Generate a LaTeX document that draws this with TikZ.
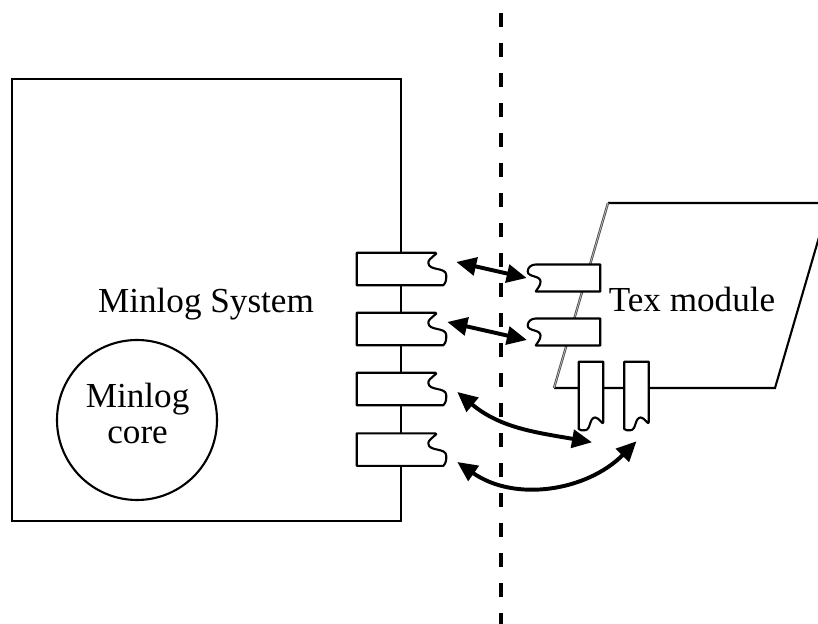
\documentclass[tikz,border=0pt]{standalone}
\usepackage{fontspec}
\setmainfont{Liberation Serif}
\usepackage{tikz}
\usetikzlibrary{arrows.meta}

% plug outlines, the notch sits on the free side
\newcommand{\lplugline}[1]{%
  \draw[plugline] (#1.north west) -- (#1.north east)
    to[out=0, in=90] ([xshift=-0.175cm, yshift=-0.25cm]#1.north east)
    to[out=-90, in=90] ([xshift=0.275cm, yshift=0.25cm]#1.south east)
    to[out=-90, in=45] ([xshift=0.2cm]#1.south east)
    -- (#1.south west) -- cycle;}
\newcommand{\rplugline}[1]{%
  \draw[plugline] (#1.north east) -- (#1.north west)
    to[out=180, in=90] ([xshift=-0.2cm, yshift=-0.17cm]#1.north west)
    to[out=-90, in=90] ([xshift=0.12cm, yshift=0.25cm]#1.south west)
    to[out=-90, in=60] (#1.south west)
    -- (#1.south east) -- cycle;}
\newcommand{\vplugline}[1]{%
  \draw[plugline] (#1.north east) -- (#1.south east)
    to[out=-90, in=0] ([xshift=-0.2cm, yshift=0.12cm]#1.south east)
    to[out=180, in=0] ([xshift=0.15cm, yshift=-0.2cm]#1.south west)
    to[out=180, in=-45] ([yshift=-0.17cm]#1.south west)
    -- (#1.north west) -- cycle;}

\begin{document}
\begin{tikzpicture}[
  sysbox/.style={rectangle, draw, line width=1.5pt,
    minimum width=9.725cm, minimum height=11.05cm},
  corebox/.style={circle, draw, line width=1.5pt, minimum size=4cm},
  lbl/.style={font=\fontsize{25}{25.6}\selectfont, inner sep=0pt},
  plug/.style={rectangle, fill=white, inner sep=0pt},
  lplug/.style={plug, minimum width=1.95cm, minimum height=0.8cm},
  rplug/.style={plug, minimum width=1.6cm, minimum height=0.66cm},
  vplug/.style={plug, minimum width=0.6cm, minimum height=1.5cm},
  plugline/.style={line width=1.5pt, line join=round},
  arr/.style={{Triangle[length=0.5cm,width=0.45cm]}-{Triangle[length=0.5cm,width=0.45cm]},
    line width=2.8pt},
  cutline/.style={line width=2.4pt, dash pattern=on 0.35cm off 0.4cm, dash phase=0.425cm},
  backedge/.style={draw=black!70, line width=0.6pt, double=black!25, double distance=0.5pt}
]
\useasboundingbox (0,0) rectangle (20.45,15.6);
\clip (0,0) rectangle (20.45,15.6);

% dividing line
\coordinate (cuttop) at (12.525,15.6);
\coordinate (cutbot) at (12.525,0);
\draw[cutline] (cuttop) -- (cutbot);

% Minlog side
\node[sysbox] (sys) at (5.1625,8.1) {};
\node[corebox] (core) at (3.425,5.1) {};
\node[lbl, align=center] (coretxt) at (3.44,5.275) {Minlog\\core};
\node[lbl, anchor=base] (systxt) at (5.15,7.775) {Minlog System};

% Tex side
\coordinate (pbl) at (13.85,5.9);
\coordinate (pbr) at (19.375,5.9);
\coordinate (ptr) at (20.725,10.525);
\coordinate (ptl) at (15.2,10.525);
\draw[line width=1.5pt] (pbl) -- (pbr) -- (ptr) -- (ptl);
\draw[backedge] (pbl) -- (ptl);
\node[lbl, anchor=base] (textxt) at (17.3,7.8) {Tex module};

% plugs
\node[lplug] (lp1) at (9.9,8.875) {};
\node[lplug] (lp2) at (9.9,7.375) {};
\node[lplug] (lp3) at (9.9,5.875) {};
\node[lplug] (lp4) at (9.9,4.36) {};
\lplugline{lp1}
\lplugline{lp2}
\lplugline{lp3}
\lplugline{lp4}

\node[rplug] (rp1) at (14.2,8.65) {};
\node[rplug] (rp2) at (14.2,7.3) {};
\rplugline{rp1}
\rplugline{rp2}

\node[vplug] (vp1) at (14.775,5.8) {};
\node[vplug] (vp2) at (15.9125,5.8) {};
\vplugline{vp1}
\vplugline{vp2}

% links
\draw[arr] ([xshift=0.525cm, yshift=0.175cm]lp1.east) -- ([xshift=-0.225cm]rp1.west);
\draw[arr] ([xshift=0.3cm, yshift=0.175cm]lp2.east) -- ([xshift=-0.22cm, yshift=-0.2cm]rp2.west);
\draw[arr] ([xshift=0.55cm, yshift=-0.075cm]lp3.east)
  to[out=-40, in=170] ([xshift=0.025cm, yshift=-0.5cm]vp1.south);
\draw[arr] ([xshift=0.55cm, yshift=-0.31cm]lp4.east)
  to[out=-35, in=-135] ([yshift=-0.475cm]vp2.south);

\end{tikzpicture}
\end{document}
